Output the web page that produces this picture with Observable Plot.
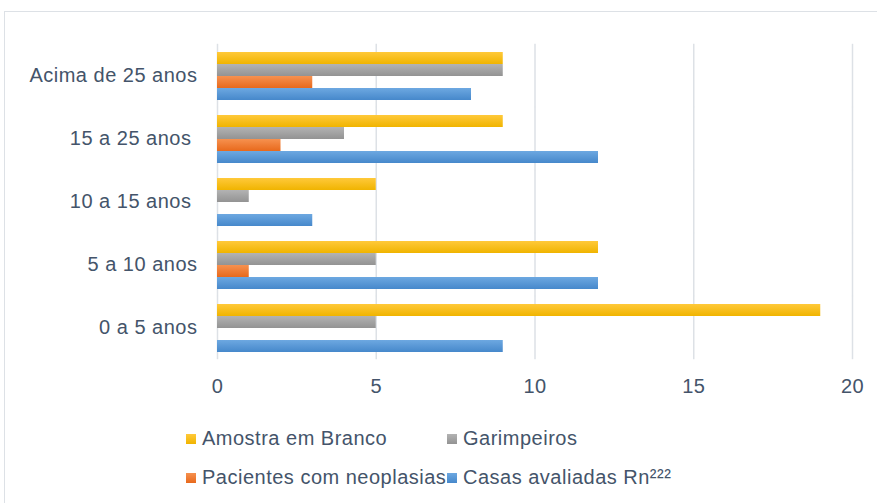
<!DOCTYPE html>
<html>
<head>
<meta charset="utf-8">
<script src="https://cdn.jsdelivr.net/npm/d3@7"></script>
<script src="https://cdn.jsdelivr.net/npm/@observablehq/plot@0.6"></script>
<style>
  body { margin: 0; width: 877px; height: 503px; overflow: hidden; background: #fff; position: relative;
         font-family: "Liberation Sans", Arial, sans-serif; }
  #frame { position: absolute; left: 4px; top: 11px; width: 1000px; height: 1000px; border: 1.5px solid #dde1e6; }
  #chart { position: absolute; left: 0; top: 0; }
  #legend { position: absolute; left: 186px; top: 419px; display: grid; grid-template-columns: 261px auto; grid-auto-rows: 39px; }
  .item { display: flex; align-items: center; font-size: 20px; color: #44546a; letter-spacing: 0.5px; white-space: nowrap; }
  .sw { width: 10px; height: 10px; margin-right: 6px; flex: none; }
</style>
</head>
<body>
<div id="frame"></div>
<div id="chart"></div>
<div id="legend"></div>
<script>
// ---- data ----
const categories = ["Acima de 25 anos", "15 a 25 anos\u00a0", "10 a 15 anos\u00a0", "5 a 10 anos", "0 a 5 anos"];
const series = ["Amostra em Branco", "Garimpeiros", "Pacientes com neoplasias", "Casas avaliadas Rn²²²"];
const amostraEmBranco = [9, 9, 5, 12, 19];
const garimpeiros = [9, 4, 1, 5, 5];
const pacientesComNeoplasias = [3, 2, 0, 1, 0];
const casasAvaliadas = [8, 12, 3, 12, 9];
const xTicks = [0, 5, 10, 15, 20];
// gradient stops (top, bottom) per series
const seriesColors = [["#ffc93a", "#f0b400"], ["#b3b3b3", "#939393"], ["#f6914f", "#e8691c"], ["#6da8e1", "#4688cb"]];

const values = [amostraEmBranco, garimpeiros, pacientesComNeoplasias, casasAvaliadas];
const data = categories.flatMap((c, i) => series.map((s, j) => ({cat: c, ser: s, idx: j, v: values[j][i]})));

const plot = Plot.plot({
  width: 877,
  height: 410,
  marginLeft: 217,
  marginRight: 25,
  marginTop: 43,
  marginBottom: 50,
  style: {fontFamily: "Liberation Sans, Arial, sans-serif", fontSize: "20px", color: "#44546a", background: "none", letterSpacing: "0.5px"},
  x: {domain: [0, 20], ticks: xTicks, tickSize: 0, tickPadding: 25, label: null},
  y: {domain: series, axis: null, padding: 0},
  fy: {domain: categories, axis: "left", paddingInner: 0.194, paddingOuter: 0.103, tickSize: 0, tickPadding: 20, label: null},
  marks: [
    Plot.ruleX(xTicks, {stroke: "#dde1e6", strokeWidth: 1.5, insetTop: -6.2, insetBottom: -6.2}),
    Plot.barX(data, {x: "v", y: "ser", fy: "cat", fill: d => `url(#grad${d.idx})`, insetTop: 0, insetBottom: 0})
  ]
});

const defs = d3.select(plot).insert("defs", ":first-child");
seriesColors.forEach((c, i) => {
  const g = defs.append("linearGradient").attr("id", `grad${i}`).attr("x1", 0).attr("y1", 0).attr("x2", 0).attr("y2", 1);
  g.append("stop").attr("offset", "0%").attr("stop-color", c[0]);
  g.append("stop").attr("offset", "100%").attr("stop-color", c[1]);
});

document.getElementById("chart").appendChild(plot);

const legend = document.getElementById("legend");
series.forEach((s, i) => {
  const item = document.createElement("div");
  item.className = "item";
  const sw = document.createElement("span");
  sw.className = "sw";
  sw.style.background = `linear-gradient(${seriesColors[i][0]}, ${seriesColors[i][1]})`;
  item.appendChild(sw);
  item.appendChild(document.createTextNode(s));
  legend.appendChild(item);
});
</script>
</body>
</html>
